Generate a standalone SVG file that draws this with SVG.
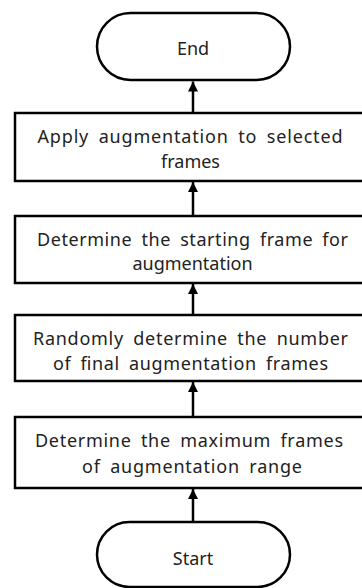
<svg xmlns="http://www.w3.org/2000/svg" width="362" height="588" viewBox="0 0 362 588">
<style>
.shape{fill:#fff;stroke:#000;stroke-width:2.5}
.t{font-family:"Noto Sans","Open Sans","Liberation Sans",sans-serif;font-size:18px;fill:#222;text-anchor:middle;word-spacing:4px}
.c{stroke:#000;stroke-width:2.5;fill:none;marker-end:url(#ah)}
</style>
<defs>
<marker id="ah" viewBox="0 0 10 10" refX="10" refY="5" markerWidth="10" markerHeight="10" markerUnits="userSpaceOnUse" orient="auto">
<path d="M0,0 L10,5 L0,10 Z" fill="#000"/>
</marker>
</defs>
<rect width="362" height="588" fill="#fff"/>
<g id="connectors">
<line class="c" x1="193" y1="113" x2="193" y2="81.5"/>
<line class="c" x1="193" y1="216" x2="193" y2="182"/>
<line class="c" x1="193" y1="315" x2="193" y2="284"/>
<line class="c" x1="193" y1="417" x2="193" y2="382"/>
<line class="c" x1="193" y1="522" x2="193" y2="489"/>
</g>
<g id="end">
<rect class="shape" x="97" y="13" width="193" height="67" rx="33.5"/>
<text class="t" x="193" y="55">End</text>
</g>
<g id="apply">
<rect class="shape" x="15" y="113" width="365" height="68"/>
<text class="t" x="190" y="143" textLength="305" lengthAdjust="spacing">Apply augmentation to selected</text>
<text class="t" x="190.5" y="168">frames</text>
</g>
<g id="starting">
<rect class="shape" x="15" y="216" width="365" height="67"/>
<text class="t" x="192.5" y="246" textLength="311" lengthAdjust="spacing">Determine the starting frame for</text>
<text class="t" x="192.5" y="270">augmentation</text>
</g>
<g id="randomly">
<rect class="shape" x="15" y="315" width="365" height="66"/>
<text class="t" x="190.5" y="345" textLength="315" lengthAdjust="spacing">Randomly determine the number</text>
<text class="t" x="190.5" y="370" textLength="275" lengthAdjust="spacing">of final augmentation frames</text>
</g>
<g id="maximum">
<rect class="shape" x="15" y="417" width="365" height="71"/>
<text class="t" x="189" y="447" textLength="308" lengthAdjust="spacing">Determine the maximum frames</text>
<text class="t" x="192" y="473" textLength="220" lengthAdjust="spacing">of augmentation range</text>
</g>
<g id="start">
<rect class="shape" x="97" y="522" width="193" height="65" rx="32.5"/>
<text class="t" x="193" y="565">Start</text>
</g>
</svg>
